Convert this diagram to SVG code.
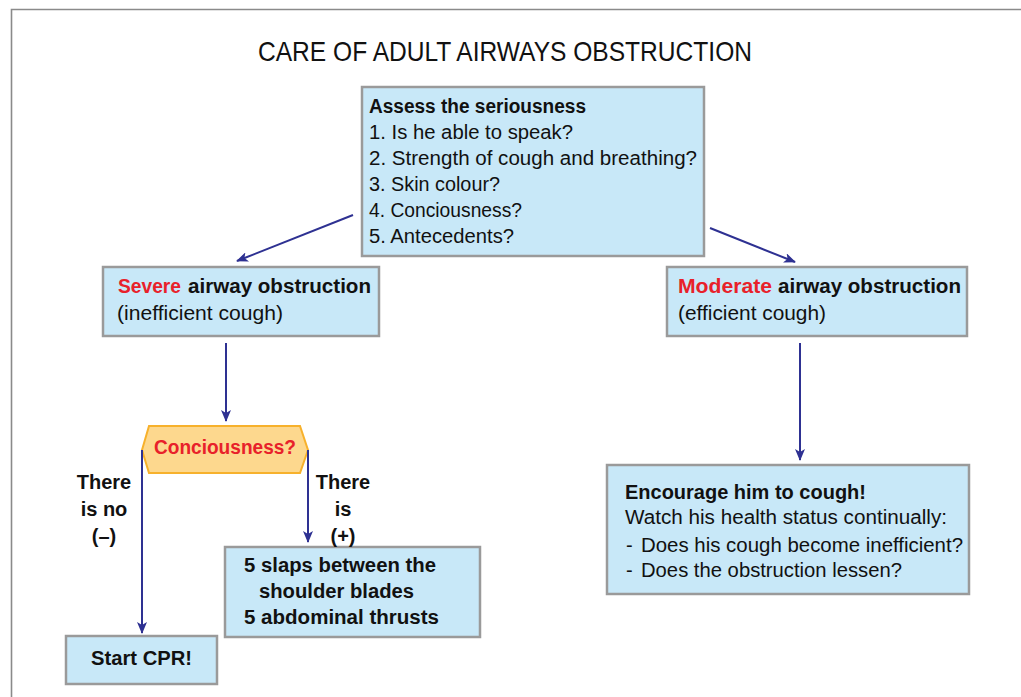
<svg xmlns="http://www.w3.org/2000/svg" width="1021" height="697" viewBox="0 0 1021 697">
  <style>
    .box { fill: #c8e8f8; stroke: #9a9a9a; stroke-width: 2.5; }
    .t { font-family: "Liberation Sans", Arial, sans-serif; font-size: 20px; fill: #111; }
    .title { font-family: "Liberation Sans", Arial, sans-serif; font-size: 28px; fill: #111; }
    .b { font-weight: bold; }
    .red { fill: #e8212a; font-weight: bold; }
    .c { text-anchor: middle; }
    .link { stroke: #2e3192; stroke-width: 2; fill: none; marker-end: url(#arrow); }
  </style>
  <defs>
    <marker id="arrow" viewBox="0 0 12 10" refX="11" refY="5" markerWidth="12" markerHeight="10" markerUnits="userSpaceOnUse" orient="auto">
      <path d="M0,0 L12,5 L0,10 L3,5 Z" fill="#2e3192"/>
    </marker>
  </defs>

  <rect width="1021" height="697" fill="#ffffff"/>
  <!-- page frame -->
  <path d="M11.5,697 V9.5 H1021" fill="none" stroke="#8a8a8a" stroke-width="1.6"/>

  <text class="title" x="258" y="61" textLength="494" lengthAdjust="spacingAndGlyphs">CARE OF ADULT AIRWAYS OBSTRUCTION</text>

  <g id="assess">
    <rect class="box" x="362" y="87" width="342" height="169"/>
    <text class="t b" x="369" y="113" textLength="217" lengthAdjust="spacingAndGlyphs">Assess the seriousness</text>
    <text class="t" x="369" y="139" textLength="204" lengthAdjust="spacingAndGlyphs">1. Is he able to speak?</text>
    <text class="t" x="369" y="165" textLength="328" lengthAdjust="spacingAndGlyphs">2. Strength of cough and breathing?</text>
    <text class="t" x="369" y="191" textLength="131" lengthAdjust="spacingAndGlyphs">3. Skin colour?</text>
    <text class="t" x="369" y="217" textLength="153" lengthAdjust="spacingAndGlyphs">4. Conciousness?</text>
    <text class="t" x="369" y="243" textLength="145" lengthAdjust="spacingAndGlyphs">5. Antecedents?</text>
  </g>

  <g id="severe">
    <rect class="box" x="103" y="267" width="276" height="69"/>
    <text class="t red" x="118" y="293" textLength="63" lengthAdjust="spacingAndGlyphs">Severe</text>
    <text class="t b" x="188" y="293" textLength="183" lengthAdjust="spacingAndGlyphs">airway obstruction</text>
    <text class="t" x="117" y="320" textLength="166" lengthAdjust="spacingAndGlyphs">(inefficient cough)</text>
  </g>

  <g id="moderate">
    <rect class="box" x="667" y="267" width="300" height="69"/>
    <text class="t red" x="678" y="293" textLength="94" lengthAdjust="spacingAndGlyphs">Moderate</text>
    <text class="t b" x="778" y="293" textLength="183" lengthAdjust="spacingAndGlyphs">airway obstruction</text>
    <text class="t" x="678" y="320" textLength="148" lengthAdjust="spacingAndGlyphs">(efficient cough)</text>
  </g>

  <g id="consciousness">
    <polygon points="142,450 149,426 300,426 308,450 300,473 149,473" fill="#fdd88e" stroke="#f7b12c" stroke-width="2"/>
    <text class="t red" x="154" y="454" textLength="142" lengthAdjust="spacingAndGlyphs">Conciousness?</text>
  </g>

  <g id="slaps">
    <rect class="box" x="225" y="547" width="255" height="90"/>
    <text class="t b" x="244" y="572" textLength="192" lengthAdjust="spacingAndGlyphs">5 slaps between the</text>
    <text class="t b" x="259" y="598" textLength="155" lengthAdjust="spacingAndGlyphs">shoulder blades</text>
    <text class="t b" x="244" y="624" textLength="195" lengthAdjust="spacingAndGlyphs">5 abdominal thrusts</text>
  </g>

  <g id="cpr">
    <rect class="box" x="66" y="636" width="151" height="48"/>
    <text class="t b" x="91" y="665" textLength="101" lengthAdjust="spacingAndGlyphs">Start CPR!</text>
  </g>

  <g id="encourage">
    <rect class="box" x="607" y="465" width="362" height="129"/>
    <text class="t b" x="625" y="499" textLength="241" lengthAdjust="spacingAndGlyphs">Encourage him to cough!</text>
    <text class="t" x="625" y="524" textLength="322" lengthAdjust="spacingAndGlyphs">Watch his health status continually:</text>
    <text class="t" x="626" y="552">-</text>
    <text class="t" x="641" y="552" textLength="322" lengthAdjust="spacingAndGlyphs">Does his cough become inefficient?</text>
    <text class="t" x="626" y="577">-</text>
    <text class="t" x="641" y="577" textLength="261" lengthAdjust="spacingAndGlyphs">Does the obstruction lessen?</text>
  </g>

  <g id="branch-labels">
    <text class="t b c" x="104" y="489">There</text>
    <text class="t b c" x="104" y="516">is no</text>
    <text class="t b c" x="104" y="543">(–)</text>
    <text class="t b c" x="343" y="489">There</text>
    <text class="t b c" x="343" y="516">is</text>
    <text class="t b c" x="343" y="543">(+)</text>
  </g>

  <g id="connectors">
    <line class="link" x1="353" y1="215" x2="237" y2="261"/>
    <line class="link" x1="710" y1="228" x2="795" y2="262"/>
    <line class="link" x1="226" y1="343" x2="226" y2="421"/>
    <line class="link" x1="800" y1="343" x2="800" y2="460"/>
    <line class="link" x1="142" y1="450" x2="142" y2="633"/>
    <line class="link" x1="308" y1="450" x2="308" y2="542"/>
  </g>
</svg>
